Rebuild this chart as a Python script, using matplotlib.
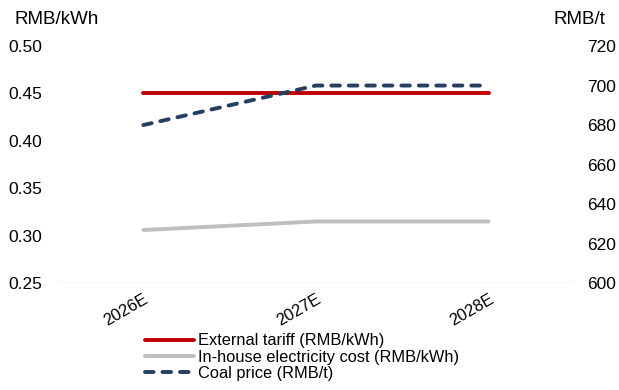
import matplotlib
matplotlib.use("Agg")
import matplotlib.pyplot as plt

plt.rcParams['font.family'] = ['Liberation Sans', 'DejaVu Sans']

years = ["2026E", "2027E", "2028E"]
external_tariff = [0.45, 0.45, 0.45]
inhouse_cost = [0.306, 0.315, 0.315]
coal_price = [680, 700, 700]

fig = plt.figure(figsize=(6.19, 3.90), dpi=100)
ax = fig.add_axes([0.092, 0.274, 0.837, 0.608])
ax2 = ax.twinx()

x = [i + 0.5 for i in range(len(years))]
lw = 2.8
l1, = ax.plot(x, external_tariff, color="#C00000", lw=lw, solid_capstyle="round",
              label="External tariff (RMB/kWh)")
l2, = ax.plot(x, inhouse_cost, color="#BFBFBF", lw=lw, solid_capstyle="round",
              label="In-house electricity cost (RMB/kWh)")
l3, = ax2.plot(x, coal_price, color="#243F60", lw=lw, ls=(0, (2.2, 2.3)),
               dash_capstyle="round", label="Coal price (RMB/t)")

ax.set_xlim(0, 3)
ax.set_ylim(0.25, 0.50)
ax.set_yticks([0.25, 0.30, 0.35, 0.40, 0.45, 0.50])
ax.set_yticklabels([f"{v:.2f}" for v in ax.get_yticks()])
ax2.set_ylim(600, 720)
ax2.set_yticks(range(600, 721, 20))

ax.set_xticks(x)
ax.set_xticklabels(years, rotation=30, ha="right", rotation_mode="anchor")

for a in (ax, ax2):
    for s in ("top", "left", "right", "bottom"):
        a.spines[s].set_visible(False)
    a.tick_params(length=0, labelsize=12.5, colors="#000000")
ax.axhline(0.25, color="#D9D9D9", lw=1.0, zorder=0)
ax.tick_params(axis="y", pad=35)
ax.tick_params(axis="x", pad=6, labelsize=12)
ax2.tick_params(axis="y", pad=8.5)
for lbl in ax.get_yticklabels():
    lbl.set_ha("left")

fig.text(0.024, 0.949, "RMB/kWh", fontsize=13.5, ha="left", va="center")
fig.text(0.978, 0.949, "RMB/t", fontsize=13.5, ha="right", va="center")

fig.legend(handles=[l1, l2, l3], loc="upper left", bbox_to_anchor=(0.234, 0.145),
           frameon=False, fontsize=11.8, handlelength=3.0, handletextpad=0.25,
           labelspacing=0.08, borderpad=0, borderaxespad=0)

fig.savefig("out.png", dpi=100)
